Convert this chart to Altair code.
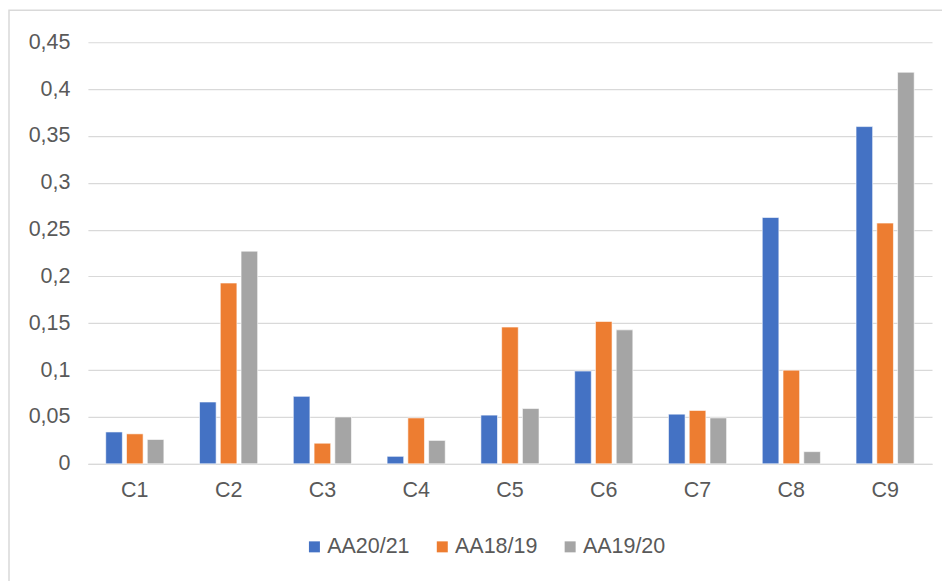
import altair as alt
import pandas as pd

categories = ["C1", "C2", "C3", "C4", "C5", "C6", "C7", "C8", "C9"]
series = ["AA20/21", "AA18/19", "AA19/20"]
aa2021 = [0.034, 0.066, 0.072, 0.008, 0.052, 0.099, 0.053, 0.263, 0.360]
aa1819 = [0.032, 0.193, 0.022, 0.049, 0.146, 0.152, 0.057, 0.100, 0.257]
aa1920 = [0.026, 0.227, 0.050, 0.025, 0.059, 0.143, 0.049, 0.013, 0.418]
colors = ["#4472C4", "#ED7D31", "#A5A5A5"]
y_ticks = [0, 0.05, 0.1, 0.15, 0.2, 0.25, 0.3, 0.35, 0.4, 0.45]

rows = []
for s, vals in zip(series, [aa2021, aa1819, aa1920]):
    for c, v in zip(categories, vals):
        rows.append({"cat": c, "serie": s, "val": v})
df = pd.DataFrame(rows)

FONT = "Liberation Sans"
TXT = "#595959"
FS = 21.5

bars = alt.Chart(df).mark_bar(stroke="white", strokeWidth=0.6).encode(
    x=alt.X("cat:N", sort=categories, title=None,
            scale=alt.Scale(paddingInner=0.38, paddingOuter=0.19),
            axis=alt.Axis(labelAngle=0, ticks=False, domain=True, domainColor="#d9d9d9",
                          labelFontSize=FS, labelColor=TXT, labelFont=FONT, labelPadding=16)),
    xOffset=alt.XOffset("serie:N", sort=series, scale=alt.Scale(paddingInner=0.2)),
    y=alt.Y("val:Q", title=None,
            scale=alt.Scale(domain=[0, 0.45], nice=False),
            axis=alt.Axis(values=y_ticks, ticks=False, domain=False,
                          labelExpr="replace(format(datum.value, '.2~f'), '.', ',')",
                          labelFontSize=FS, labelColor=TXT, labelFont=FONT, labelPadding=18,
                          gridColor="#d9d9d9", gridWidth=1.2)),
    color=alt.Color("serie:N", sort=series,
                    scale=alt.Scale(domain=series, range=colors),
                    legend=alt.Legend(title=None, orient="none", direction="horizontal",
                                      legendX=216, legendY=494,
                                      symbolType="square", symbolSize=121, symbolStrokeWidth=0,
                                      labelFontSize=FS, labelColor=TXT, labelFont=FONT,
                                      labelOffset=2, columnPadding=22)),
)

frame = alt.Chart(pd.DataFrame({"a": [0]})).mark_rect(
    fill=None, stroke="#d9d9d9", strokeWidth=1.5
).encode(x=alt.value(-79), x2=alt.value(1200), y=alt.value(-32), y2=alt.value(1200))

chart = alt.layer(bars, frame).properties(
    width=845, height=422,
    autosize=alt.AutoSizeParams(type="none"),
    padding={"left": 80, "top": 34, "right": 10, "bottom": 117},
).configure_view(stroke=None)

chart.save("out.html", embed_options={"renderer": "svg", "actions": False})
